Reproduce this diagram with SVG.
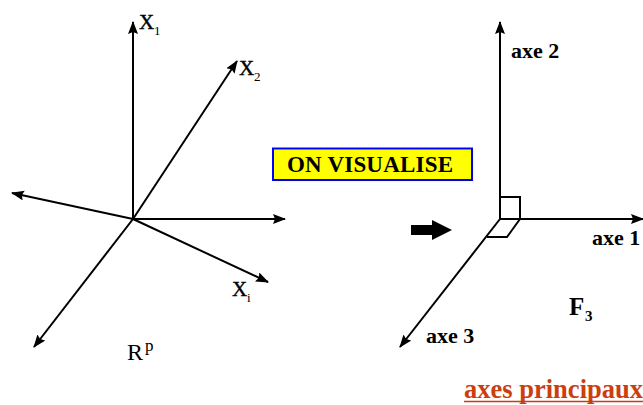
<svg xmlns="http://www.w3.org/2000/svg" width="643" height="405" viewBox="0 0 643 405">
<style>
.ax{stroke:#000;stroke-width:2;fill:none}
.t{font-family:"Liberation Serif","Times New Roman",serif;fill:#000}
.b{font-weight:bold}
</style>
<defs>
<marker id="ah" markerUnits="userSpaceOnUse" markerWidth="14" markerHeight="12" refX="12" refY="5" orient="auto">
<path d="M0,0 L13,5 L0,10 L2,5 z" fill="#000"/>
</marker>
</defs>
<rect width="643" height="405" fill="#fff"/>
<g id="connectors">
<line class="ax" x1="133" y1="219" x2="133" y2="22" marker-end="url(#ah)"/>
<line class="ax" x1="133" y1="219" x2="237" y2="61" marker-end="url(#ah)"/>
<line class="ax" x1="133" y1="219" x2="12" y2="193" marker-end="url(#ah)"/>
<line class="ax" x1="133" y1="219" x2="285" y2="219" marker-end="url(#ah)"/>
<line class="ax" x1="133" y1="219" x2="268" y2="282" marker-end="url(#ah)"/>
<line class="ax" x1="133" y1="219" x2="34" y2="347" marker-end="url(#ah)"/>
<line class="ax" x1="500" y1="219" x2="500" y2="22" marker-end="url(#ah)"/>
<line class="ax" x1="500" y1="219" x2="643" y2="219" marker-end="url(#ah)"/>
<line class="ax" x1="500" y1="219" x2="400" y2="347" marker-end="url(#ah)"/>
<path class="ax" d="M500,197 H520 V219 L507,237 H487"/>
<path d="M411,225 H432 V220 L452,230 L432,240 V235 H411 z" fill="#000"/>
</g>
<g id="left-labels">
<text class="t" x="139" y="29" font-size="21" stroke="#000" stroke-width="0.4">X</text><text class="t" x="154" y="35" font-size="13">1</text>
<text class="t" x="239" y="75" font-size="21" stroke="#000" stroke-width="0.4">X</text><text class="t" x="254" y="81" font-size="13">2</text>
<text class="t" x="232" y="296" font-size="21" stroke="#000" stroke-width="0.4">X</text><text class="t" x="247" y="302" font-size="13">i</text>
<text class="t" x="127" y="360" font-size="24">R</text><text class="t" x="145" y="351" font-size="17">p</text>
</g>
<g id="on-visualise">
<rect x="273" y="148.5" width="199" height="31.5" fill="#ffff00" stroke="#0000ff" stroke-width="2"/>
<text class="t b" x="287" y="172" font-size="23" textLength="166">ON VISUALISE</text>
</g>
<g id="right-labels">
<text class="t b" x="511" y="58" font-size="22">axe 2</text>
<text class="t b" x="592" y="245" font-size="22">axe 1</text>
<text class="t b" x="426" y="343" font-size="22">axe 3</text>
<text class="t b" x="569" y="315" font-size="25">F</text><text class="t b" x="585" y="321" font-size="15">3</text>
</g>
<g id="title">
<text class="t b" x="464" y="398" font-size="26.5" style="fill:#cc3e0e" textLength="179" lengthAdjust="spacing">axes principaux</text>
<line x1="464" y1="401.5" x2="643" y2="401.5" stroke="#cc3e0e" stroke-width="1.5"/>
</g>
</svg>
